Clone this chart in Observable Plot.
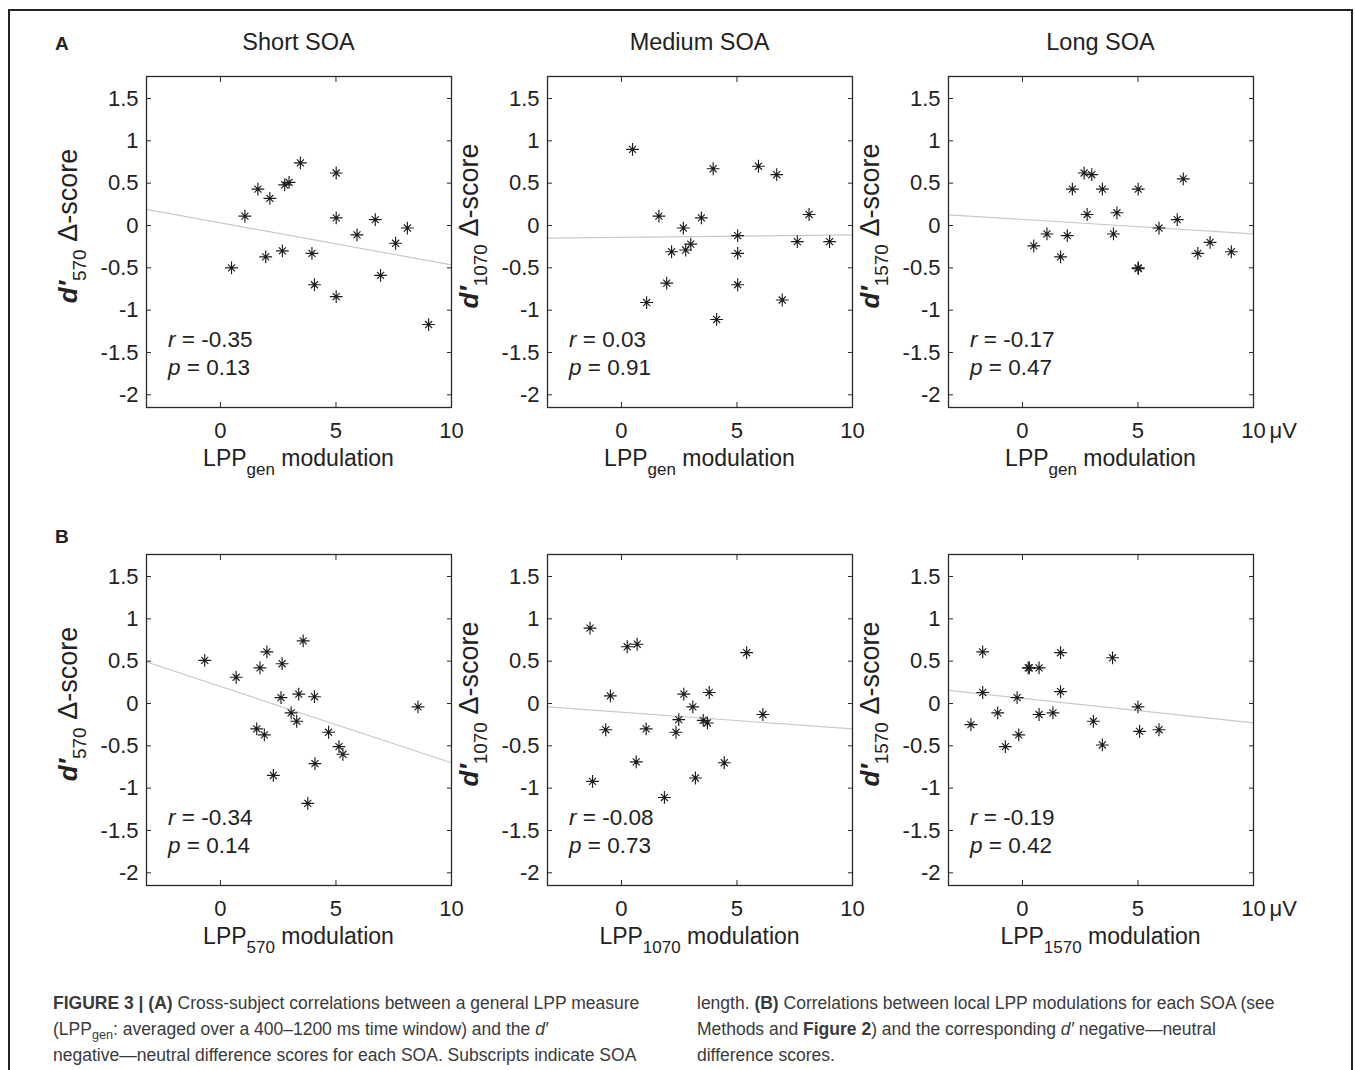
<!DOCTYPE html>
<html><head><meta charset="utf-8">
<script src="https://cdn.jsdelivr.net/npm/d3@7"></script>
<script src="https://cdn.jsdelivr.net/npm/@observablehq/plot@0.6"></script>
<style>
html,body{margin:0;padding:0;background:#fff;}
body{width:1355px;height:1070px;overflow:hidden;position:relative;font-family:"Liberation Sans",Arial,Helvetica,sans-serif;color:#222;}
#border{position:absolute;left:8px;top:9px;width:1345px;height:1100px;border:2px solid #222;box-sizing:border-box;}
.panel{position:absolute;}
.lbl{position:absolute;font-weight:bold;font-size:19px;line-height:19px;}
.cap{position:absolute;top:990px;font-size:17.5px;line-height:26px;color:#3a3a3a;white-space:nowrap;}
.cap sub{font-size:0.72em;line-height:0;vertical-align:-0.3em;}
</style></head><body>
<div id="border"></div>
<div class="lbl" style="left:55px;top:34px">A</div>
<div class="lbl" style="left:55px;top:527px">B</div>
<div class="cap" style="left:53px">
<b>FIGURE 3 | (A)</b> Cross-subject correlations between a general LPP measure<br>
(LPP<sub>gen</sub>: averaged over a 400–1200 ms time window) and the <i>d′</i><br>
negative—neutral difference scores for each SOA. Subscripts indicate SOA
</div>
<div class="cap" style="left:697px">
length. <b>(B)</b> Correlations between local LPP modulations for each SOA (see<br>
Methods and <b>Figure 2</b>) and the corresponding <i>d′</i> negative—neutral<br>
difference scores.
</div>
<script>
// ---------- data ----------
const xTicks = [0, 5, 10];
const xTickLabels = ["0", "5", "10"];
const yTicks = [-2, -1.5, -1, -0.5, 0, 0.5, 1, 1.5];
const yTickLabels = ["-2", "-1.5", "-1", "-0.5", "0", "0.5", "1", "1.5"];
const titles = ["Short SOA", "Medium SOA", "Long SOA"];
const soaSubs = ["570", "1070", "1570"];
const unitLabel = "μV";

// Row A: LPP_gen modulation vs d' delta-score
const aShortX = [0.48,1.06,1.62,2.14,1.96,2.68,2.78,2.97,3.46,3.96,4.07,5.01,5.01,5.01,5.91,6.70,6.93,7.58,8.09,9.01];
const aShortY = [-0.50,0.11,0.43,0.32,-0.37,-0.30,0.48,0.51,0.74,-0.33,-0.70,0.62,0.09,-0.84,-0.11,0.07,-0.59,-0.21,-0.03,-1.17];
const aMediumX = [0.48,1.09,1.62,1.96,2.17,2.68,2.78,3.00,3.46,3.97,4.12,5.03,5.03,5.03,5.93,6.72,6.96,7.61,8.12,9.01];
const aMediumY = [0.90,-0.91,0.11,-0.68,-0.31,-0.03,-0.29,-0.22,0.09,0.67,-1.11,-0.12,-0.33,-0.70,0.70,0.60,-0.88,-0.19,0.13,-0.19];
const aLongX = [0.49,1.06,1.65,1.94,2.16,2.67,2.80,3.00,3.46,3.94,4.09,5.01,5.01,5.01,5.91,6.70,6.96,7.59,8.12,9.04];
const aLongY = [-0.24,-0.10,-0.37,-0.12,0.43,0.62,0.13,0.60,0.43,-0.10,0.15,0.43,-0.50,-0.51,-0.03,0.07,0.55,-0.33,-0.20,-0.31];
// Row B: local LPP modulation vs d' delta-score
const bShortX = [-0.68,0.68,1.71,2.01,1.57,1.90,2.29,2.67,2.62,3.06,3.30,3.39,3.58,3.78,4.07,4.09,4.68,5.13,5.30,8.55];
const bShortY = [0.51,0.31,0.42,0.61,-0.30,-0.37,-0.85,0.47,0.07,-0.11,-0.21,0.11,0.74,-1.18,0.08,-0.71,-0.34,-0.51,-0.60,-0.04];
const bMediumX = [-1.36,-1.25,-0.68,-0.48,0.25,0.68,0.64,1.07,1.86,2.36,2.48,2.70,3.09,3.20,3.54,3.72,3.80,4.45,5.42,6.12];
const bMediumY = [0.89,-0.92,-0.31,0.09,0.67,0.70,-0.69,-0.30,-1.11,-0.34,-0.19,0.11,-0.04,-0.88,-0.20,-0.23,0.13,-0.70,0.60,-0.13];
const bLongX = [-2.23,-1.72,-1.72,-1.07,-0.74,-0.23,-0.16,0.25,0.30,0.72,0.72,1.32,1.65,1.65,3.07,3.46,3.90,5.00,5.07,5.91];
const bLongY = [-0.25,0.61,0.13,-0.11,-0.51,0.07,-0.37,0.42,0.42,0.42,-0.13,-0.11,0.60,0.14,-0.21,-0.49,0.54,-0.04,-0.33,-0.31];

// fitted line values (as drawn) at the left and right ends of the x domain
const fitLeftY  = [0.19, -0.15, 0.126, 0.49, -0.04, 0.154];
const fitRightY = [-0.465, -0.11, -0.098, -0.70, -0.30, -0.228];

const rValues = ["-0.35", "0.03", "-0.17", "-0.34", "-0.08", "-0.19"];
const pValues = ["0.13", "0.91", "0.47", "0.14", "0.73", "0.42"];

// ---------- layout ----------
const xDomain = [-3.2, 10];
const yDomain = [-2.15, 1.76];
const FW = 305, FH = 331;
const ML = 100, MR = 70, MT = 60, MB = 80;
const colLefts = [146, 547, 948];
const rowTops = [76, 554];
const FONT = "'Liberation Sans', Arial, Helvetica, sans-serif";

const star = {
  draw(ctx, size) {
    const r = Math.sqrt(size / Math.PI);
    const d = r * 0.55;
    ctx.moveTo(-r, 0); ctx.lineTo(r, 0);
    ctx.moveTo(0, -r); ctx.lineTo(0, r);
    ctx.moveTo(-d, -d); ctx.lineTo(d, d);
    ctx.moveTo(-d, d); ctx.lineTo(d, -d);
  }
};

const panels = [
  {row: 0, col: 0, xs: aShortX, ys: aShortY, xSub: "gen"},
  {row: 0, col: 1, xs: aMediumX, ys: aMediumY, xSub: "gen"},
  {row: 0, col: 2, xs: aLongX, ys: aLongY, xSub: "gen"},
  {row: 1, col: 0, xs: bShortX, ys: bShortY, xSub: soaSubs[0]},
  {row: 1, col: 1, xs: bMediumX, ys: bMediumY, xSub: soaSubs[1]},
  {row: 1, col: 2, xs: bLongX, ys: bLongY, xSub: soaSubs[2]},
];

const NS = "http://www.w3.org/2000/svg";
function el(parent, tag, attrs, text) {
  const e = document.createElementNS(NS, tag);
  for (const k in attrs) e.setAttribute(k, attrs[k]);
  if (text != null) e.textContent = text;
  parent.appendChild(e);
  return e;
}

panels.forEach((pn, k) => {
  const data = pn.xs.map((x, i) => ({x, y: pn.ys[i]}));
  const fit = [{x: xDomain[0], y: fitLeftY[k]}, {x: xDomain[1], y: fitRightY[k]}];
  const last = pn.col === 2;

  const marks = [
    Plot.line(fit, {x: "x", y: "y", stroke: "#c9c9c9", strokeWidth: 1.2}),
    Plot.dot(data, {x: "x", y: "y", symbol: star, r: 6.4, stroke: "#1c1c1c", strokeWidth: 1.15, fill: "none"}),
    Plot.frame({stroke: "#2a2a2a", strokeWidth: 1.3}),
    Plot.axisX(xTicks, {anchor: "bottom", tickSize: 0, tickPadding: 15, fontSize: 22, label: null,
      tickFormat: d => xTickLabels[xTicks.indexOf(d)]}),
    Plot.axisX(xTicks, {anchor: "bottom", tickSize: -5, text: null, label: null, stroke: "#2a2a2a"}),
    Plot.axisX(xTicks, {anchor: "top", tickSize: -5, text: null, label: null, stroke: "#2a2a2a"}),
    Plot.axisY(yTicks, {anchor: "left", tickSize: 0, tickPadding: 8, fontSize: 22, label: null,
      tickFormat: d => yTickLabels[yTicks.indexOf(d)]}),
    Plot.axisY(yTicks, {anchor: "left", tickSize: -5, text: null, label: null, stroke: "#2a2a2a"}),
    Plot.axisY(yTicks, {anchor: "right", tickSize: -5, text: null, label: null, stroke: "#2a2a2a"}),
  ];
  if (last) {
    marks.push(Plot.text([xTicks[xTicks.length - 1]], {x: d => d, frameAnchor: "bottom", text: () => unitLabel,
      textAnchor: "start", lineAnchor: "top", dy: 15, dx: 16, fontSize: 22}));
  }

  const svg = Plot.plot({
    width: ML + FW + MR, height: MT + FH + MB,
    marginLeft: ML, marginRight: MR, marginTop: MT, marginBottom: MB,
    x: {domain: xDomain}, y: {domain: yDomain},
    style: {fontFamily: FONT, fontSize: "22px", color: "#222", background: "transparent", overflow: "visible"},
    marks
  });
  svg.classList.add("panel");
  svg.style.position = "absolute";
  svg.style.left = (colLefts[pn.col] - ML) + "px";
  svg.style.top = (rowTops[pn.row] - MT) + "px";
  svg.style.maxWidth = "none";

  const g = el(svg, "g", {fill: "#222", "font-family": FONT, "text-anchor": "start"});
  // title
  if (pn.row === 0) {
    el(g, "text", {x: ML + FW / 2, y: MT - 26, "text-anchor": "middle", "font-size": 23.5}, titles[pn.col]);
  }
  // y label
  const yl = el(g, "text", {transform: `translate(${ML - 69},${MT + 150}) rotate(-90)`, "text-anchor": "middle", "font-size": 27});
  el(yl, "tspan", {"font-weight": "bold", "font-style": "italic", "font-size": 26}, "d′");
  el(yl, "tspan", {dy: 9, "font-size": 19}, soaSubs[pn.col]);
  el(yl, "tspan", {dy: -9}, " Δ-score");
  // x label
  const xl = el(g, "text", {x: ML + FW / 2, y: MT + FH + 59, "text-anchor": "middle", "font-size": 23});
  el(xl, "tspan", {}, "LPP");
  el(xl, "tspan", {dy: 9, "font-size": 17}, pn.xSub);
  el(xl, "tspan", {dy: -9}, " modulation");
  // stats
  const rt = el(g, "text", {x: ML + 22, y: MT + FH - 60, "font-size": 22.5, "text-anchor": "start"});
  el(rt, "tspan", {"font-style": "italic"}, "r");
  el(rt, "tspan", {}, " = " + rValues[k]);
  const pt = el(g, "text", {x: ML + 22, y: MT + FH - 32, "font-size": 22.5, "text-anchor": "start"});
  el(pt, "tspan", {"font-style": "italic"}, "p");
  el(pt, "tspan", {}, " = " + pValues[k]);

  document.body.appendChild(svg);
});
</script>
</body></html>
